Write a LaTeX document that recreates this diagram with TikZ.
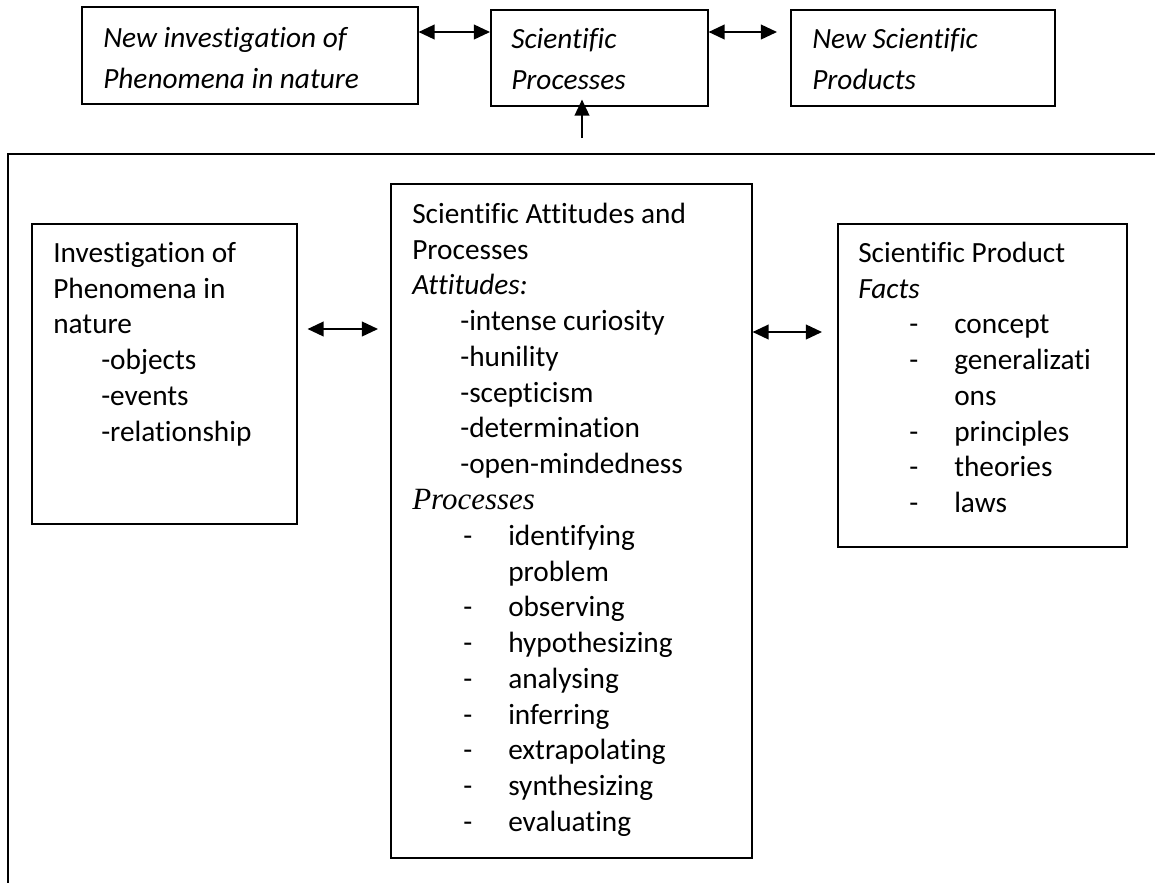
\documentclass[tikz,border=0pt]{standalone}
\usepackage{fontspec}
\setmainfont{Carlito}[Ligatures=NoCommon]
\newfontfamily\timesfont{Liberation Serif}
\usetikzlibrary{arrows.meta,calc}

\newdimen\pxu \pxu=0.025cm
\newcommand{\bodyfont}{\fontsize{20.84}{25.44}\selectfont}
\newcommand{\attitem}[1]{\hspace*{48\pxu}#1}
\newcommand{\dashitem}[1]{\hspace*{51\pxu}\makebox[45\pxu][l]{-}#1}
\newcommand{\contitem}[1]{\hspace*{96\pxu}#1}

\tikzset{
	box/.style={draw, rectangle, line width=1.1pt, inner sep=0pt, anchor=north west},
	boxtext/.style={anchor=north west, inner sep=0pt, align=left, font=\bodyfont},
	toptext/.style={anchor=north west, inner sep=0pt, align=left, font={\fontsize{20.84}{29.16}\selectfont\itshape}},
	biarrow/.style={{Triangle[length=11.5pt,width=10.5pt]}-{Triangle[length=11.5pt,width=10.5pt]}, line width=1.3pt},
	onearrow/.style={-{Triangle[length=11.5pt,width=10.5pt]}, line width=1.3pt},
	frame/.style={line width=1.3pt}
}

\begin{document}
\begin{tikzpicture}[x=0.025cm, y=-0.025cm]
			\useasboundingbox (0,0) rectangle (1155,883);
			
			%%%%% top row %%%%%
			\node[box, minimum width=336*\pxu, minimum height=97*\pxu] (newinv) at (81,6) {};
			\node[box, minimum width=217*\pxu, minimum height=96*\pxu] (sciproc) at (490,9) {};
			\node[box, minimum width=264*\pxu, minimum height=96*\pxu] (newprod) at (790,9) {};
			
			\node[toptext] (newinvtext) at (103,18.3) {\strut New investigation of\\Phenomena in nature};
			\node[toptext] (sciproctext) at (511,19.3) {\strut Scientific\\Processes};
			\node[toptext] (newprodtext) at (812,19.3) {\strut New Scientific\\Products};
			
			\coordinate (toprow) at (0,32);
			\draw[biarrow] (newinv.east |- toprow) -- (sciproc.west |- toprow);
			\draw[biarrow] (sciproc.east |- toprow) -- ([xshift=-0.325cm]newprod.west |- toprow);
			
			\coordinate (riser) at (582,138);
			\draw[onearrow] (riser) -- ($(riser |- sciproc.south)+(0,-7)$);
			
			%%%%% big frame %%%%%
			\draw[frame] (1155,154) -- (8,154) -- (8,883);
			
			%%%%% inner boxes %%%%%
			\node[box, minimum width=265*\pxu, minimum height=300*\pxu] (invest) at (31,223) {};
			\node[box, minimum width=361*\pxu, minimum height=674*\pxu] (attproc) at (390,183) {};
			\node[box, minimum width=289*\pxu, minimum height=323*\pxu] (product) at (837,223) {};
			
			\node[boxtext] (investtext) at (53,237) {\strut Investigation of\\
				Phenomena in\\
				nature\\
				\attitem{-objects}\\
				\attitem{-events}\\
				\attitem{-relationship}};
			
			\node[boxtext] (attproctext) at (412,198) {\strut Scientific Attitudes and\\
				Processes\\
				\textit{Attitudes:}\\
				\attitem{-intense curiosity}\\
				\attitem{-hunility}\\
				\attitem{-scepticism}\\
				\attitem{-determination}\\
				\attitem{-open-mindedness}\\
				{\timesfont\fontsize{22}{25.44}\selectfont\itshape Processes}\\
				\dashitem{identifying}\\
				\contitem{problem}\\
				\dashitem{observing}\\
				\dashitem{hypothesizing}\\
				\dashitem{analysing}\\
				\dashitem{inferring}\\
				\dashitem{extrapolating}\\
				\dashitem{synthesizing}\\
				\dashitem{evaluating}};
			
			\node[boxtext] (producttext) at (858,237) {\strut Scientific Product\\
				\textit{Facts}\\
				\dashitem{concept}\\
				\dashitem{generalizati}\\
				\contitem{ons}\\
				\dashitem{principles}\\
				\dashitem{theories}\\
				\dashitem{laws}};
			
			\coordinate (leftrow) at (0,329);
			\coordinate (rightrow) at (0,332);
			\draw[biarrow] ([xshift=0.25cm]invest.east |- leftrow) -- ([xshift=-0.3cm]attproc.west |- leftrow);
			\draw[biarrow] (attproc.east |- rightrow) -- ([xshift=-0.375cm]product.west |- rightrow);
\end{tikzpicture}
\end{document}
